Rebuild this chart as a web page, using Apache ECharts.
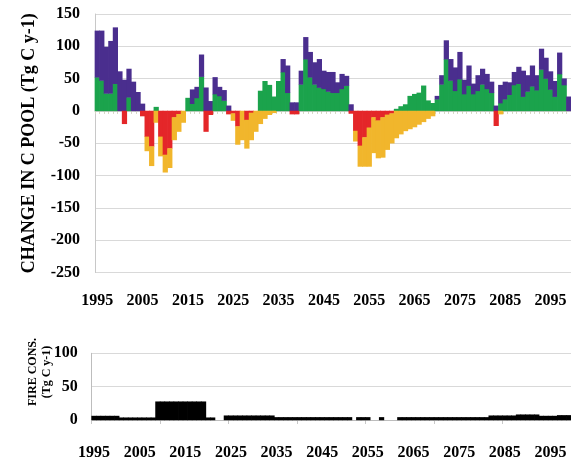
<!DOCTYPE html>
<html>
<head>
<meta charset="utf-8">
<script src="https://cdn.jsdelivr.net/npm/echarts@6/dist/echarts.min.js"></script>
<style>
  html, body { margin: 0; padding: 0; background: #ffffff; }
  #chart { width: 571px; height: 464px; }
</style>
</head>
<body>
<div id="chart"></div>
<script>
// Categories (years)
var years = [
  '1995','1996','1997','1998','1999',
  '2000','2001','2002','2003','2004','2005','2006','2007','2008','2009',
  '2010','2011','2012','2013','2014','2015','2016','2017','2018','2019',
  '2020','2021','2022','2023','2024','2025','2026','2027','2028','2029',
  '2030','2031','2032','2033','2034','2035','2036','2037','2038','2039',
  '2040','2041','2042','2043','2044','2045','2046','2047','2048','2049',
  '2050','2051','2052','2053','2054','2055','2056','2057','2058','2059',
  '2060','2061','2062','2063','2064','2065','2066','2067','2068','2069',
  '2070','2071','2072','2073','2074','2075','2076','2077','2078','2079',
  '2080','2081','2082','2083','2084','2085','2086','2087','2088','2089',
  '2090','2091','2092','2093','2094','2095','2096','2097','2098','2099'
];

// Positive components (Tg C y-1), green at the base, purple stacked on top
var green = [
  52, 47, 27, 27, 42,
  0, 0, 21, 0, 0, 0, 0, 0, 6, 0,
  0, 0, 0, 0, 0, 20, 11, 20, 53, 0,
  0, 26, 23, 16, 0, 0, 0, 0, 0, 0,
  0, 31, 46, 40, 22, 46, 60, 28, 0, 0,
  41, 80, 52, 41, 36, 34, 30, 28, 28, 34,
  39, 0, 0, 0, 0, 0, 0, 0, 0, 0,
  0, 3, 7, 10, 23, 26, 28, 39, 16, 12,
  18, 41, 80, 47, 31, 49, 26, 39, 26, 31,
  41, 34, 28, 0, 12, 18, 25, 40, 42, 22,
  30, 38, 32, 64, 50, 33, 22, 57, 40, 0
];
var purple = [
  72, 77, 72, 81, 87,
  61, 48, 44, 45, 29, 11, 0, 0, 0, 0,
  0, 0, 0, 0, 0, 0, 22, 17, 34, 36,
  15, 26, 14, 16, 8, 0, 0, 0, 0, 0,
  0, 0, 0, 0, 0, 0, 20, 42, 13, 13,
  21, 34, 39, 34, 44, 28, 30, 32, 16, 23,
  15, 10, 0, 0, 0, 0, 0, 0, 0, 0,
  0, 0, 0, 0, 0, 0, 0, 0, 0, 0,
  5, 14, 29, 33, 36, 42, 22, 31, 16, 24,
  24, 23, 17, 8, 28, 27, 19, 20, 26, 40,
  25, 32, 23, 32, 32, 28, 24, 33, 10, 22
];
// Negative components, red next to zero, yellow stacked below
var red = [
  0, 0, 0, 0, 0,
  0, -20, 0, 0, 0, -8, -40, -55, 0, -40,
  -68, -58, -10, -5, 0, 0, 0, 0, 0, -32,
  -6, 0, 0, 0, -5, -4, -24, 0, -14, -3,
  0, 0, 0, 0, 0, 0, 0, 0, -5, -5,
  0, 0, 0, 0, 0, 0, 0, 0, 0, 0,
  0, -4, -31, -54, -41, -26, -10, -15, -10, -6,
  -4, 0, 0, 0, 0, 0, 0, 0, 0, 0,
  0, 0, 0, 0, 0, 0, 0, 0, 0, 0,
  0, 0, 0, -23, 0, 0, 0, 0, 0, 0,
  0, 0, 0, 0, 0, 0, 0, 0, 0, 0
];
var yellow = [
  0, 0, 0, 0, 0,
  0, 0, 0, 0, 0, 0, -22, -30, -18, -30,
  -27, -30, -35, -27, -18, 0, 0, 0, 0, 0,
  0, 0, 0, 0, 0, -11, -28, -45, -44, -42,
  -32, -20, -12, -6, -3, 0, 0, 0, 0, 0,
  0, 0, 0, 0, 0, 0, 0, 0, 0, 0,
  0, 0, -16, -32, -45, -60, -55, -58, -62, -54,
  -46, -42, -36, -31, -28, -25, -21, -17, -12, -8,
  0, 0, 0, 0, 0, 0, 0, 0, 0, 0,
  0, 0, 0, 0, -5, 0, 0, 0, 0, 0,
  0, 0, 0, 0, 0, 0, 0, 0, 0, 0
];
// Fire consumption (Tg C y-1)
var fire = [
  6, 6, 6, 6, 6,
  6, 3.5, 3.5, 3.5, 3.5, 3.5, 3.5, 3.5, 3.5, 27.5,
  27.5, 27.5, 27.5, 27.5, 27.5, 27.5, 27.5, 27.5, 27.5, 27.5,
  3.5, 3.5, 0, 0, 6.5, 6.5, 6.5, 6.5, 6.5, 6.5,
  6.5, 6.5, 6.5, 6.5, 6.5, 4, 4, 4, 4, 4,
  4, 4, 4, 4, 4, 4, 4, 4, 4, 4,
  4, 4, 0, 4, 4, 4, 0, 0, 4, 0,
  0, 0, 4, 4, 4, 4, 4, 4, 4, 4,
  4, 4, 4, 4, 4, 4, 4, 4, 4, 4,
  4, 4, 6.5, 6.5, 6.5, 6.5, 6.5, 6.5, 8, 8,
  8, 8, 8, 6, 6, 6, 6, 7, 7, 7
];

var COLORS = { green: '#1ba34c', purple: '#4a2e8e', red: '#e42629', yellow: '#f1b62c', fire: '#000000' };
var FONT = 'Liberation Serif';
var labelStyle = { fontFamily: FONT, fontWeight: 'bold', fontSize: 16, color: '#000' };

// Rows for the custom series: [index, green, purple, red, yellow]
var poolRows = years.map(function (y, i) { return [i, green[i], purple[i], red[i], yellow[i]]; });
var fireRows = years.map(function (y, i) { return [i, fire[i]]; });

// one rectangle from value a to value b in category i (slight overlap hides seams)
function segment(api, i, a, b, color) {
  if (a === b) return null;
  var p1 = api.coord([i, a]);
  var p2 = api.coord([i, b]);
  var w = api.size([1, 0])[0];
  var top = Math.min(p1[1], p2[1]);
  var h = Math.abs(p2[1] - p1[1]);
  return {
    type: 'rect',
    shape: { x: p1[0] - w / 2 - 0.35, y: top - 0.2, width: w + 0.7, height: h + 0.4 },
    style: { fill: color }
  };
}

function renderPool(params, api) {
  var i = api.value(0), g = api.value(1), p = api.value(2), r = api.value(3), yv = api.value(4);
  var kids = [
    segment(api, i, 0, g, COLORS.green),
    segment(api, i, g, g + p, COLORS.purple),
    segment(api, i, 0, r, COLORS.red),
    segment(api, i, r, r + yv, COLORS.yellow)
  ].filter(function (c) { return c; });
  return { type: 'group', children: kids };
}

function renderFire(params, api) {
  var i = api.value(0), f = api.value(1);
  var kids = [segment(api, i, 0, f, COLORS.fire)].filter(function (c) { return c; });
  return { type: 'group', children: kids };
}

var chart = echarts.init(document.getElementById('chart'), null, { renderer: 'canvas' });
chart.setOption({
  animation: false,
  backgroundColor: '#ffffff',
  grid: [
    { left: 95, right: 0, top: 14, height: 258.5 },
    { left: 91.7, right: 0, top: 353.3, height: 66.7 }
  ],
  graphic: [
    {
      type: 'text', x: 40, y: 372, rotation: Math.PI / 2,
      style: {
        text: 'FIRE CONS.\n(Tg C y-1)', fontFamily: FONT, fontWeight: 'bold', fontSize: 12,
        lineHeight: 14, fill: '#000', textAlign: 'center', textVerticalAlign: 'middle'
      }
    }
  ],
  xAxis: [
    {
      gridIndex: 0, type: 'category', data: years, position: 'top',
      axisLine: { onZero: true, lineStyle: { color: '#cfcfcf', width: 1 } },
      axisTick: { show: true, inside: true, length: 3, interval: 0, lineStyle: { color: '#d6d6c4' } },
      axisLabel: { show: false },
      splitLine: { show: false }
    },
    {
      gridIndex: 0, type: 'category', data: years, position: 'bottom',
      axisLine: { show: false, onZero: false },
      axisTick: { show: false },
      axisLabel: Object.assign({ interval: 9, margin: 20 }, labelStyle),
      splitLine: { show: false }
    },
    {
      gridIndex: 1, type: 'category', data: years, position: 'bottom',
      axisLine: { onZero: false, lineStyle: { color: '#bdbdbd' } },
      axisTick: { show: true, interval: 14, length: 4, lineStyle: { color: '#c8c8c8' } },
      axisLabel: Object.assign({ interval: 9, margin: 25 }, labelStyle),
      splitLine: { show: false }
    }
  ],
  yAxis: [
    {
      gridIndex: 0, type: 'value', min: -250, max: 150, interval: 50,
      name: 'CHANGE IN C POOL (Tg C y-1)', nameLocation: 'middle', nameRotate: 90, nameGap: 57,
      nameTextStyle: { fontFamily: FONT, fontWeight: 'bold', fontSize: 18, color: '#000' },
      axisLine: { show: true, lineStyle: { color: '#c8c8c8' } },
      axisTick: { show: false },
      axisLabel: Object.assign({ margin: 15 }, labelStyle),
      splitLine: { lineStyle: { color: '#d9d9d9' } }
    },
    {
      gridIndex: 1, type: 'value', min: 0, max: 100, interval: 50,
      axisLine: { show: true, lineStyle: { color: '#bdbdbd' } },
      axisTick: { show: false },
      axisLabel: Object.assign({ margin: 14 }, labelStyle),
      splitLine: { lineStyle: { color: '#d9d9d9' } }
    }
  ],
  series: [
    {
      name: 'C pool change', type: 'custom', xAxisIndex: 1, yAxisIndex: 0,
      data: poolRows, encode: { x: 0, y: [1, 2, 3, 4] }, renderItem: renderPool, z: 3
    },
    {
      name: 'Fire consumption', type: 'custom', xAxisIndex: 2, yAxisIndex: 1,
      data: fireRows, encode: { x: 0, y: 1 }, renderItem: renderFire, z: 3
    }
  ]
});
</script>
</body>
</html>
